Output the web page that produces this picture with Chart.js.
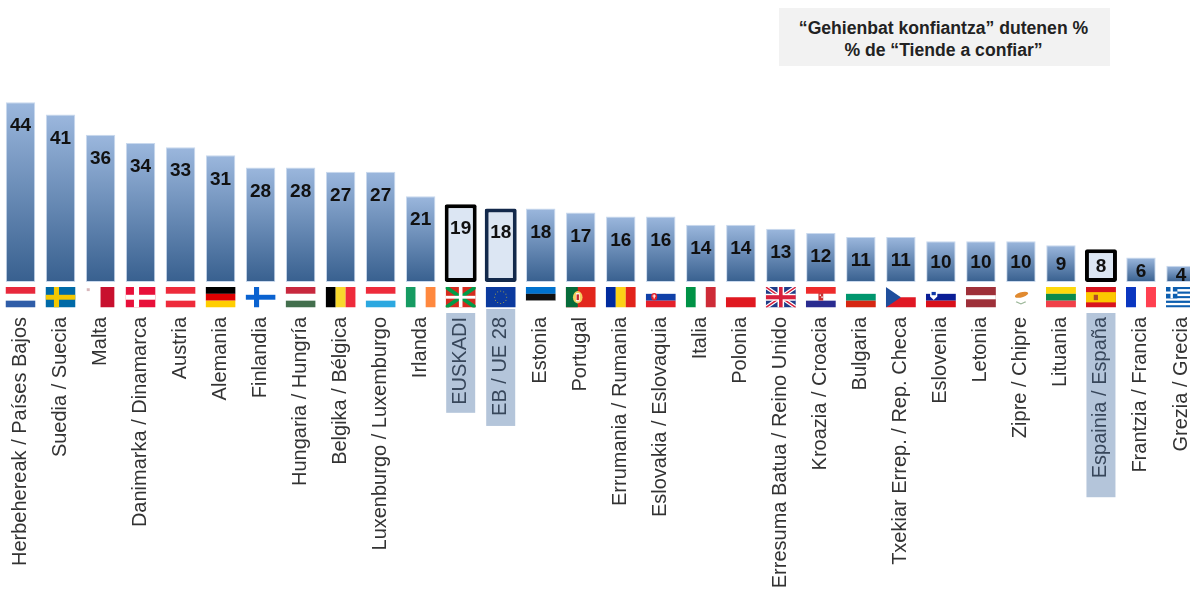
<!DOCTYPE html>
<html><head><meta charset="utf-8">
<script src="https://cdn.jsdelivr.net/npm/chart.js@4"></script>
<style>
html,body{margin:0;padding:0;background:#fff;width:1190px;height:589px;overflow:hidden}
#wrap{position:relative;width:1190px;height:589px;overflow:hidden}
canvas{position:absolute;left:0;top:0}
#note{position:absolute;left:779px;top:8px;width:331px;height:58px;background:#F2F2F2;color:#222;font:bold 17.6px/22px "Liberation Sans",Arial,sans-serif;text-align:center;padding:9px 2px 0 0;box-sizing:border-box}
</style></head><body>
<div id="wrap"><canvas id="c" width="1201" height="589"></canvas>
<div id="note">“Gehienbat konfiantza” dutenen %<br>% de “Tiende a confiar”</div></div>
<script>
const categories=["Herbehereak / Países Bajos","Suedia / Suecia","Malta","Danimarka / Dinamarca","Austria","Alemania","Finlandia","Hungaria / Hungría","Belgika / Bélgica","Luxenburgo / Luxemburgo","Irlanda","EUSKADI","EB / UE 28","Estonia","Portugal","Errumania / Rumania","Eslovakia / Eslovaquia","Italia","Polonia","Erresuma Batua / Reino Unido","Kroazia / Croacia","Bulgaria","Txekiar Errep. / Rep. Checa","Eslovenia","Letonia","Zipre / Chipre","Lituania","Espainia / España","Frantzia / Francia","Grezia / Grecia"];
const values=[44,41,36,34,33,31,28,28,27,27,21,19,18,18,17,16,16,14,14,13,12,11,11,10,10,10,9,8,6,4];
const flagCodes=["nl","se","mt","dk","at","de","fi","hu","be","lu","ie","eus","eu","ee","pt","ro","sk","it","pl","uk","hr","bg","cz","si","lv","cy","lt","es","fr","gr"];
const highlighted=["EUSKADI","EB / UE 28","Espainia / España"];
const darkBlueBorder=["EB / UE 28"];
const plainValues=values.map((v,i)=>highlighted.includes(categories[i])?null:v);
const boxedValues=values.map((v,i)=>highlighted.includes(categories[i])?v:null);

function hs(g,cols){const n=cols.length;cols.forEach((c,i)=>{g.fillStyle=c;g.fillRect(0,i/n,1,1/n+.001)})}
function vs(g,cols){const n=cols.length;cols.forEach((c,i)=>{g.fillStyle=c;g.fillRect(i/n,0,1/n+.001,1)})}
function rc(g,c,x,y,w,h){g.fillStyle=c;g.fillRect(x,y,w,h)}
function cross(g,bg,c){rc(g,bg,0,0,1,1);rc(g,c,.28,0,.17,1);rc(g,c,0,.38,1,.24)}
function shield(g,x,y,c){g.fillStyle=c;g.beginPath();g.ellipse(x,y,.1,.18,0,0,7);g.fill()}
const flags={
 nl:g=>hs(g,["#E8293C","#fff","#2F5DA8"]),
 se:g=>cross(g,"#006AA7","#F5C800"),
 mt:g=>{rc(g,"#fff",0,0,1,1);rc(g,"#C8102E",.5,0,.46,1);rc(g,"#D8B8BC",.04,.06,.1,.14)},
 dk:g=>cross(g,"#E8103A","#fff"),
 at:g=>hs(g,["#EE2B3B","#fff","#EE2B3B"]),
 de:g=>hs(g,["#000","#DD0000","#FFCE00"]),
 fi:g=>cross(g,"#fff","#0A62D0"),
 hu:g=>hs(g,["#C8283E","#fff","#436F4D"]),
 be:g=>vs(g,["#000","#F8D82C","#EE2B3B"]),
 lu:g=>hs(g,["#EE2B3B","#fff","#2CA8E0"]),
 ie:g=>vs(g,["#169B62","#fff","#FF883E"]),
 eus:g=>{rc(g,"#D52B1E",0,0,1,1);g.strokeStyle="#009B48";g.lineWidth=.16;g.beginPath();g.moveTo(0,0);g.lineTo(1,1);g.moveTo(1,0);g.lineTo(0,1);g.stroke();rc(g,"#fff",.44,0,.12,1);rc(g,"#fff",0,.43,1,.14)},
 eu:g=>{rc(g,"#0B3A9E",0,0,1,1);g.fillStyle="#E8D020";for(let i=0;i<12;i++){const a=i*Math.PI/6;g.fillRect(.5+.2*Math.cos(a)-.012,.5+.3*Math.sin(a)-.02,.025,.04)}},
 ee:g=>hs(g,["#0072CE","#111","#fff"]),
 pt:g=>{rc(g,"#E2261C",0,0,1,1);rc(g,"#066B3A",0,0,.4,1);g.fillStyle="#F5D060";g.beginPath();g.ellipse(.4,.5,.16,.3,0,0,7);g.fill();rc(g,"#fff",.34,.3,.12,.4);rc(g,"#C8282C",.36,.36,.08,.28)},
 ro:g=>vs(g,["#002B9E","#FCD116","#E2231A"]),
 sk:g=>{hs(g,["#fff","#1040A8","#E4202A"]);shield(g,.28,.47,"#E4202A");rc(g,"#fff",.26,.36,.04,.2);rc(g,"#fff",.22,.42,.12,.04)},
 it:g=>vs(g,["#009246","#fff","#CE2B37"]),
 pl:g=>{rc(g,"#fff",0,0,1,.5);rc(g,"#E01820",0,.5,1,.5)},
 uk:g=>{rc(g,"#1F3C88",0,0,1,1);g.strokeStyle="#fff";g.lineWidth=.16;g.beginPath();g.moveTo(0,0);g.lineTo(1,1);g.moveTo(1,0);g.lineTo(0,1);g.stroke();g.strokeStyle="#D8203C";g.lineWidth=.06;g.stroke();rc(g,"#fff",.39,0,.22,1);rc(g,"#fff",0,.33,1,.34);rc(g,"#D8203C",.44,0,.12,1);rc(g,"#D8203C",0,.4,1,.2)},
 hr:g=>{hs(g,["#EE2B2B","#fff","#2A2C90"]);rc(g,"#C83030",.42,.3,.16,.36);rc(g,"#fff",.46,.36,.04,.08);rc(g,"#fff",.52,.46,.04,.08)},
 bg:g=>hs(g,["#fff","#00966E","#D62612"]),
 cz:g=>{rc(g,"#fff",0,0,1,.5);rc(g,"#E01824",0,.5,1,.5);g.fillStyle="#1F4E9C";g.beginPath();g.moveTo(0,0);g.lineTo(.5,.5);g.lineTo(0,1);g.fill()},
 si:g=>{hs(g,["#fff","#0A1E96","#D8101A"]);g.fillStyle="#fff";g.beginPath();g.moveTo(.14,.14);g.lineTo(.38,.14);g.lineTo(.38,.46);g.lineTo(.26,.64);g.lineTo(.14,.46);g.fill();rc(g,"#1038A8",.19,.24,.14,.16)},
 lv:g=>{rc(g,"#9E3039",0,0,1,1);rc(g,"#fff",0,.4,1,.2)},
 cy:g=>{rc(g,"#fff",0,0,1,1);g.fillStyle="#E08A30";g.beginPath();g.ellipse(.52,.38,.24,.12,-.45,0,7);g.fill();g.strokeStyle="#9DB89A";g.lineWidth=.05;g.beginPath();g.moveTo(.34,.72);g.lineTo(.5,.82);g.lineTo(.66,.72);g.stroke()},
 lt:g=>hs(g,["#FDD80C","#0A8A4C","#F04048"]),
 es:g=>{rc(g,"#D8141E",0,0,1,1);rc(g,"#FCC800",0,.25,1,.5);rc(g,"#B04A28",.26,.38,.14,.26)},
 fr:g=>vs(g,["#0A36C0","#fff","#FF4050"]),
 gr:g=>{for(let i=0;i<9;i++){rc(g,i%2?"#fff":"#0D5EAF",0,i/9,1,1/9+.001)}rc(g,"#0D5EAF",0,0,.38,5/9);rc(g,"#fff",.15,0,.08,5/9);rc(g,"#fff",0,.22,.38,.11)}
};
const labelFont='20px "Liberation Sans",Arial,sans-serif';
const boxTrail={"EUSKADI":12,"EB / UE 28":14,"Espainia / España":23};
const labelBoxPlugin={id:"labelBoxes",beforeDraw(chart){
 const c=chart.ctx,xs=chart.scales.x,base=chart.scales.y.getPixelForValue(0);
 c.save();c.font=labelFont;c.fillStyle="#B4C5DA";
 categories.forEach((lab,i)=>{
  if(!highlighted.includes(lab))return;
  const x=xs.getPixelForTick(i),w=c.measureText(lab).width;
  const lift=darkBlueBorder.includes(lab)?4:0;
  c.fillRect(x-14.5,base+31-lift,29,w+boxTrail[lab]+lift);
 });
 c.restore();
}};
const flagPlugin={id:"flags",afterDatasetsDraw(chart){
 const c=chart.ctx,xs=chart.scales.x,base=chart.scales.y.getPixelForValue(0);
 flagCodes.forEach((code,i)=>{
  const x=xs.getPixelForTick(i);
  c.save();c.translate(x-15,base+5);c.scale(30,20.5);
  c.beginPath();c.rect(0,0,1,1);c.clip();flags[code](c);c.restore();
 });
}};
const valuePlugin={id:"vals",afterDatasetsDraw(chart){
 const c=chart.ctx,xs=chart.scales.x,ys=chart.scales.y,base=ys.getPixelForValue(0);
 c.save();c.font='bold 19px "Liberation Sans",Arial,sans-serif';c.fillStyle="#111";c.textAlign="center";c.textBaseline="middle";
 values.forEach((v,i)=>{
  const top=ys.getPixelForValue(v),h=base-top;
  c.fillText(String(v),xs.getPixelForTick(i),top+1+Math.min(23,.45*h+2));
 });
 c.restore();
}};
function barFill(ctx){
 const ch=ctx.chart;
 if(!ch.chartArea||ctx.dataIndex===undefined)return "#6d8fbd";
 const y=ch.scales.y,t=y.getPixelForValue(values[ctx.dataIndex]),b=y.getPixelForValue(0);
 const g=ch.ctx.createLinearGradient(0,t,0,b);
 g.addColorStop(0,"#9BB7DD");g.addColorStop(1,"#38608F");
 return g;
}
new Chart(document.getElementById("c"),{
 type:"bar",
 data:{labels:categories,datasets:[
  {data:plainValues,backgroundColor:barFill,borderColor:"#C9D9EE",borderWidth:1,borderSkipped:false,categoryPercentage:1,barPercentage:.735,grouped:false},
  {data:boxedValues,backgroundColor:"#DCE6F3",
   borderColor:ctx=>darkBlueBorder.includes(categories[ctx.dataIndex])?"#13294B":"#000",
   borderWidth:4,borderRadius:2,borderSkipped:false,categoryPercentage:1,barPercentage:.8,grouped:false}
 ]},
 options:{responsive:false,animation:false,devicePixelRatio:1,
  layout:{padding:{left:.5,right:0,top:0,bottom:0}},
  plugins:{legend:{display:false},title:{display:false},tooltip:{enabled:false}},
  scales:{
   y:{display:false,min:0,max:69,grid:{display:false}},
   x:{grid:{display:false,drawTicks:false},border:{display:false},
    afterFit(s){s.paddingLeft=0;s.paddingRight=0;s.height=307;},
    ticks:{autoSkip:false,minRotation:90,maxRotation:90,padding:35,
     color:c=>highlighted.includes(categories[c.index])?"#37465A":"#333",
     font:{family:'"Liberation Sans",Arial,sans-serif',size:20}}}
  }},
 plugins:[labelBoxPlugin,flagPlugin,valuePlugin]
});
</script></body></html>
